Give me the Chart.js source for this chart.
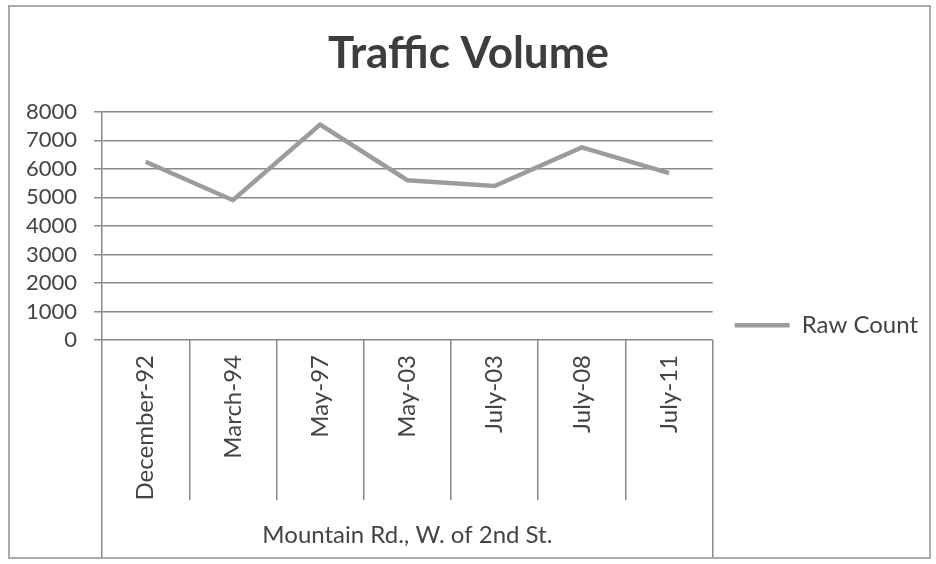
<!DOCTYPE html>
<html>
<head>
<meta charset="utf-8">
<script src="https://cdn.jsdelivr.net/npm/chart.js@4"></script>
<style>
  body { margin: 0; background: #fff; }
  .wrap { position: relative; width: 936px; height: 564px; }
  .frame { position: absolute; left: 8px; top: 5px; width: 919px; height: 550px; border: 2px solid #aaa; pointer-events: none; }
</style>
</head>
<body>
<div class="wrap">
  <canvas id="grafico"></canvas>
  <div class="frame"></div>
</div>
<script>
const categorias = ['December-92', 'March-94', 'May-97', 'May-03', 'July-03', 'July-08', 'July-11']
const rawCount = [6250, 4900, 7550, 5600, 5400, 6750, 5850]
const grupo = ['Mountain Rd., W. of 2nd St.']
const yMin = 0
const yMax = 8000
const yStep = 1000

const cinza = '#8a8a8a'
const texto = '#444'

Chart.defaults.font.family = 'Lato'

const ctx = document.getElementById('grafico')

new Chart(ctx, {
    type: 'line',
    data: {
        labels: categorias,
        datasets: [
            {
                label: 'Raw Count',
                data: rawCount,
                borderColor: '#9c9c9c',
                backgroundColor: '#9c9c9c',
                borderWidth: 4.5,
                pointRadius: 0,
                tension: 0
            }
        ]
    },
    options: {
        responsive: true,
        maintainAspectRatio: false,
        animation: false,
        layout: {
            padding: { left: 9, right: 8, top: 0, bottom: 4 }
        },
        plugins: {
            title: {
                display: true,
                text: 'Traffic Volume',
                color: '#3d3d3d',
                font: { size: 44, weight: 'bold' },
                padding: { top: 27, bottom: 32 }
            },
            legend: {
                position: 'right',
                align: 'center',
                title: { display: true, text: '', padding: { top: 76 } },
                labels: {
                    usePointStyle: true,
                    pointStyle: 'line',
                    pointStyleWidth: 55,
                    padding: 22,
                    color: texto,
                    font: { size: 24 }
                }
            },
            tooltip: { enabled: false }
        },
        scales: {
            y: {
                min: yMin,
                max: yMax,
                ticks: {
                    stepSize: yStep,
                    autoSkip: false,
                    color: texto,
                    font: { size: 22 },
                    padding: 17,
                    callback: (v) => String(v)
                },
                grid: { color: cinza, lineWidth: 1.5, tickLength: 8 },
                border: { display: true, color: cinza, width: 1.5 }
            },
            x: {
                offset: true,
                weight: 0,
                ticks: {
                    color: texto,
                    font: { size: 24 },
                    minRotation: 90,
                    maxRotation: 90,
                    autoSkip: false,
                    padding: -145
                },
                grid: { offset: true, drawOnChartArea: false, tickLength: 160, color: cinza, lineWidth: 1.5 },
                border: { display: false },
                afterFit: (scale) => { scale.height = 160 }
            },
            x2: {
                type: 'category',
                position: 'bottom',
                labels: grupo,
                offset: true,
                weight: 1,
                ticks: { color: texto, font: { size: 24 }, maxRotation: 0, padding: -36 },
                grid: { offset: true, drawOnChartArea: false, tickLength: 57, color: cinza, lineWidth: 1.5 },
                border: { display: false },
                afterFit: (scale) => { scale.height = 60 }
            }
        }
    }
})
</script>
</body>
</html>
